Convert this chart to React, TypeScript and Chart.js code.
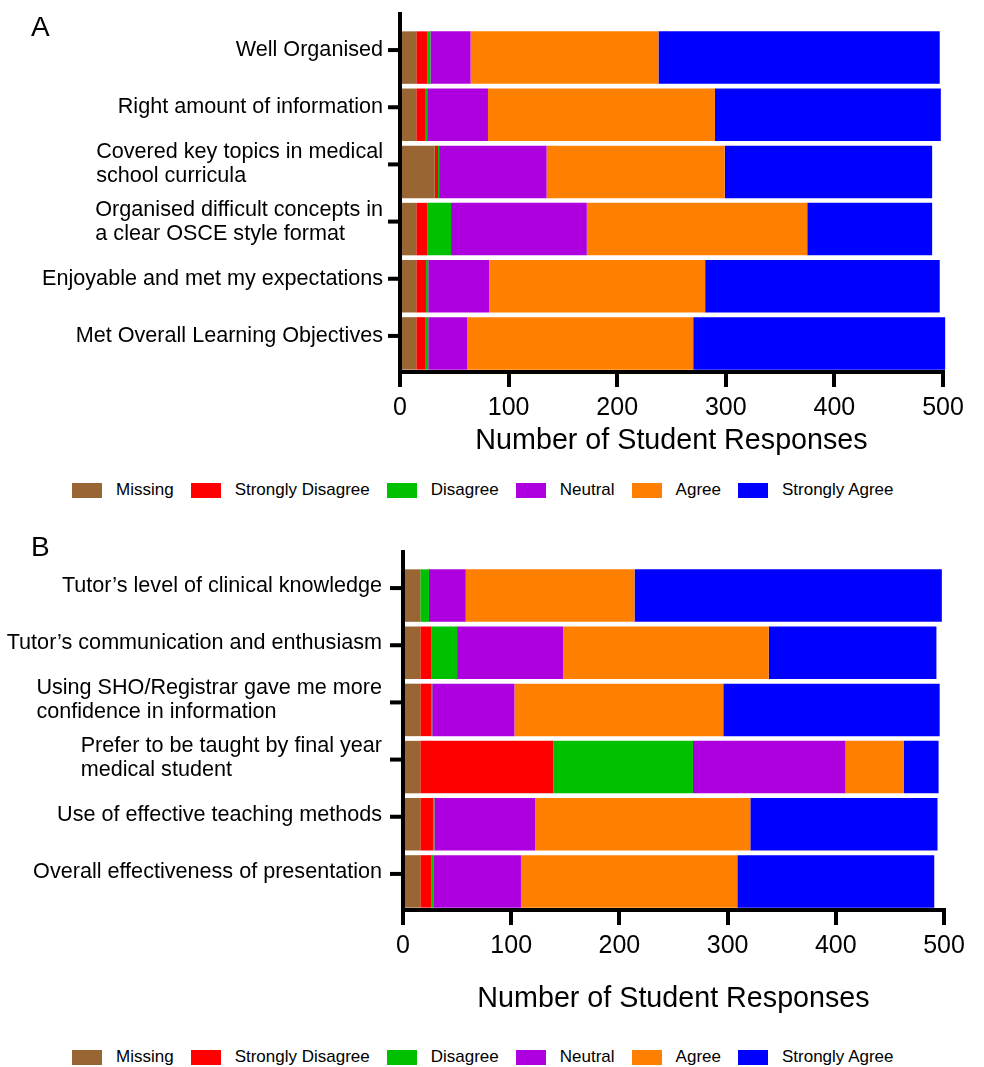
import React, { useEffect, useRef } from "react";
import { Chart, registerables } from "chart.js";

Chart.register(...registerables);

const FONT = '"Liberation Sans", Arial, Helvetica, sans-serif';

const SERIES_NAMES = ["Missing", "Strongly Disagree", "Disagree", "Neutral", "Agree", "Strongly Agree"];
const SERIES_COLORS = ["#996633", "#FF0000", "#00C000", "#AE00DE", "#FF8000", "#0000FF"];

// Panel A
const categoriesA: (string | string[])[] = [
  "Well Organised",
  "Right amount of information",
  ["Covered key topics in medical", "school curricula"],
  ["Organised difficult concepts in", "a clear OSCE style format"],
  "Enjoyable and met my expectations",
  "Met Overall Learning Objectives",
];
const missingA = [15, 15, 32, 15, 15, 15];
const stronglyDisagreeA = [10, 8, 3, 10, 9, 8];
const disagreeA = [3, 2, 1, 22, 2, 3];
const neutralA = [37, 56, 99, 125, 56, 36];
const agreeA = [173, 209, 164, 203, 199, 208];
const stronglyAgreeA = [259, 208, 191, 115, 216, 232];

// Panel B
const categoriesB: (string | string[])[] = [
  "Tutor\u2019s level of clinical knowledge",
  "Tutor\u2019s communication and enthusiasm",
  ["Using SHO/Registrar gave me more", "confidence in information"],
  ["Prefer to be taught by final year", "medical student"],
  "Use of effective teaching methods",
  "Overall effectiveness of presentation",
];
const missingB = [16, 16, 16, 16, 16, 16];
const stronglyDisagreeB = [0, 10, 10, 123, 12, 10];
const disagreeB = [8, 24, 1, 129, 1, 2];
const neutralB = [34, 98, 76, 141, 93, 81];
const agreeB = [156, 190, 193, 54, 199, 200];
const stronglyAgreeB = [284, 155, 200, 32, 173, 182];

const X_TICKS = [0, 100, 200, 300, 400, 500];
const X_TITLE = "Number of Student Responses";

const yLabelPlugin = {
  id: "yLabels",
  afterDraw(chart: any, _args: any, opts: any) {
    const { ctx, chartArea } = chart;
    const yScale = chart.scales.y;
    const xScale = chart.scales.x;
    const axisX = xScale.getPixelForValue(0);
    ctx.save();
    ctx.fillStyle = "#000";
    // extend the y axis line above the bars
    ctx.fillRect(axisX - 2, opts.axisTop, 4, chartArea.top - opts.axisTop + 2);
    ctx.font = `21.6px ${FONT}`;
    ctx.textBaseline = "middle";
    ctx.textAlign = "left";
    const labels = chart.data.labels as (string | string[])[];
    labels.forEach((lab, i) => {
      const cy = yScale.getPixelForValue(i) + opts.tickShift;
      ctx.fillRect(axisX - opts.tickLen, cy - 2, opts.tickLen, 4);
      const lines = Array.isArray(lab) ? lab : [lab];
      const w = Math.max(...lines.map((l) => ctx.measureText(l).width));
      const x0 = opts.labelRight - w;
      lines.forEach((l, j) => {
        ctx.fillText(l, x0, cy + opts.labelShift + (j - (lines.length - 1) / 2) * opts.lineHeight);
      });
    });
    ctx.restore();
  },
};

type PanelProps = {
  top: number;
  height: number;
  labels: (string | string[])[];
  series: number[][];
  leftPx: number;
  rightPad: number;
  chartBottom: number;
  titlePadBottom: number;
  labelRight: number;
  tickLen: number;
  labelShift: number;
};

function Panel(p: PanelProps) {
  const ref = useRef<HTMLCanvasElement | null>(null);
  useEffect(() => {
    if (!ref.current) return;
    const chart = new Chart(ref.current, {
      type: "bar",
      data: {
        labels: p.labels as any,
        datasets: SERIES_NAMES.map((name, k) => ({
          label: name,
          data: p.series[k],
          backgroundColor: SERIES_COLORS[k],
          borderWidth: 0,
          barPercentage: 0.918,
          categoryPercentage: 1,
          clip: false as any,
        })),
      },
      options: {
        indexAxis: "y",
        animation: false,
        responsive: false,
        maintainAspectRatio: false,
        layout: { padding: { left: 0, right: p.rightPad, top: 29, bottom: 0 } },
        plugins: {
          legend: { display: false },
          tooltip: { enabled: false },
          yLabels: {
            axisTop: 12,
            tickShift: -7.5,
            tickLen: p.tickLen,
            labelRight: p.labelRight,
            labelShift: p.labelShift,
            lineHeight: 24,
          },
        } as any,
        scales: {
          x: {
            type: "linear",
            stacked: true,
            min: X_TICKS[0],
            max: X_TICKS[X_TICKS.length - 1],
            z: 1,
            afterBuildTicks: (s: any) => {
              s.ticks = X_TICKS.map((v) => ({ value: v }));
            },
            ticks: {
              font: { size: 25, family: FONT },
              color: "#000",
              padding: 6,
              maxRotation: 0,
            },
            grid: {
              display: true,
              drawOnChartArea: false,
              drawTicks: true,
              tickLength: 15,
              tickWidth: 4,
              tickColor: "#000",
              color: "#000",
              lineWidth: 4,
            },
            border: { display: true, width: 4, color: "#000" },
            title: {
              display: true,
              text: X_TITLE,
              color: "#000",
              font: { size: 28.7, family: FONT },
              padding: { top: 0, bottom: p.titlePadBottom },
            },
            afterFit: (s: any) => {
              s.height = p.height - p.chartBottom;
            },
          },
          y: {
            type: "category",
            stacked: true,
            z: 1,
            ticks: { display: false },
            grid: { display: false },
            border: { display: true, width: 4, color: "#000" },
            afterFit: (s: any) => {
              s.width = p.leftPx;
            },
          },
        },
      } as any,
      plugins: [yLabelPlugin],
    });
    return () => chart.destroy();
  }, []);
  return (
    <canvas
      ref={ref}
      width={984}
      height={p.height}
      style={{ position: "absolute", left: 0, top: p.top, width: 984, height: p.height }}
    />
  );
}

function Legend({ top }: { top: number }) {
  return (
    <div
      style={{
        position: "absolute",
        left: 72,
        top,
        height: 20,
        display: "flex",
        alignItems: "center",
        fontFamily: FONT,
        fontSize: 17,
        color: "#000",
        whiteSpace: "nowrap",
      }}
    >
      {SERIES_NAMES.map((n, k) => (
        <div key={n} style={{ display: "flex", alignItems: "center", marginRight: 17 }}>
          <span style={{ display: "inline-block", width: 30, height: 15, background: SERIES_COLORS[k], marginRight: 14 }} />
          <span>{n}</span>
        </div>
      ))}
    </div>
  );
}

function PanelLetter({ text, top }: { text: string; top: number }) {
  return (
    <div
      style={{
        position: "absolute",
        left: 31,
        top,
        fontFamily: FONT,
        fontSize: 28,
        lineHeight: "28px",
        color: "#000",
      }}
    >
      {text}
    </div>
  );
}

export default function App() {
  return (
    <div style={{ position: "absolute", left: 0, top: 0, width: 984, height: 1067, background: "#fff", overflow: "hidden" }}>
      <Panel
        top={0}
        height={470}
        labels={categoriesA}
        series={[missingA, stronglyDisagreeA, disagreeA, neutralA, agreeA, stronglyAgreeA]}
        leftPx={400}
        rightPad={41}
        chartBottom={372}
        titlePadBottom={12}
        labelRight={383}
        tickLen={12}
        labelShift={0}
      />
      <Panel
        top={538}
        height={500}
        labels={categoriesB}
        series={[missingB, stronglyDisagreeB, disagreeB, neutralB, agreeB, stronglyAgreeB]}
        leftPx={403}
        rightPad={40}
        chartBottom={372}
        titlePadBottom={22}
        labelRight={382}
        tickLen={13}
        labelShift={-2}
      />
      <PanelLetter text="A" top={13} />
      <PanelLetter text="B" top={533} />
      <Legend top={480} />
      <Legend top={1047} />
    </div>
  );
}
